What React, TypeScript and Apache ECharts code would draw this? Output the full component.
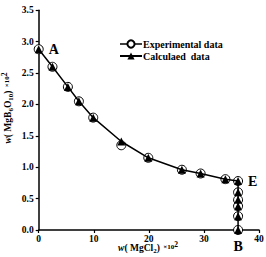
import React, { useEffect, useRef } from "react";
import * as echarts from "echarts";

const expX = [0, 2.5, 5.3, 7.3, 9.9, 15.0, 19.9, 26.0, 29.4, 33.9, 36.2, 36.2, 36.2, 36.2, 36.2, 36.2];
const expY = [2.88, 2.6, 2.28, 2.05, 1.79, 1.35, 1.15, 0.96, 0.9, 0.81, 0.78, 0.6, 0.48, 0.38, 0.22, 0.0];
const calcX = [0, 2.5, 5.3, 7.3, 9.9, 15.0, 19.9, 26.0, 29.4, 33.9, 36.2, 36.2, 36.2, 36.2, 36.2, 36.2];
const calcY = [2.88, 2.6, 2.28, 2.05, 1.79, 1.41, 1.15, 0.96, 0.9, 0.81, 0.78, 0.6, 0.48, 0.38, 0.22, 0.0];
const pointLabels: Record<number, { text: string; pos: string }> = {
  0: { text: "A", pos: "right" },
  10: { text: "E", pos: "right" },
  15: { text: "B", pos: "bottom" },
};
const seriesNames = ["Experimental data", "Calculaed  data"];
const xName = "{i|w}{n|( MgCl}{s|2}{n|)} {x|×10}{p|2}";
const yName = "{i|w}{n|( MgB}{s|6}{n|O}{s|10}{n|)} {x|×10}{p|2}";

const FONT = "'Liberation Serif', 'DejaVu Serif', serif";

const nameRich = {
  i: { fontFamily: FONT, fontStyle: "italic", fontWeight: "bold", fontSize: 9.5, lineHeight: 16, color: "#000" },
  n: { fontFamily: FONT, fontWeight: "bold", fontSize: 9.5, lineHeight: 16, color: "#000" },
  s: { fontFamily: FONT, fontWeight: "bold", fontSize: 7, lineHeight: 10, padding: [6, 0, 0, 0], color: "#000" },
  p: { fontFamily: FONT, fontWeight: "bold", fontSize: 7.5, lineHeight: 9, padding: [0, 0, 7, 0], color: "#000" },
  x: { fontFamily: FONT, fontWeight: "bold", fontSize: 7, lineHeight: 14, padding: [0, 0, 2, 0], color: "#000" },
};

export default function App() {
  const ref = useRef<HTMLDivElement>(null);
  useEffect(() => {
    if (!ref.current) return;
    const chart = echarts.init(ref.current, undefined, { renderer: "svg" });
    const expData = expX.map((x, i) => {
      const lab = pointLabels[i];
      if (!lab) return [x, expY[i]];
      return {
        value: [x, expY[i]],
        label: {
          show: true,
          formatter: lab.text,
          position: lab.pos,
          distance: lab.pos === "bottom" ? 4 : 5,
          fontFamily: FONT,
          fontWeight: "bold",
          fontSize: 14,
          color: "#000",
        },
      };
    });
    const calcData = calcX.map((x, i) => [x, calcY[i]]);
    chart.setOption({
      animation: false,
      grid: { left: 38.7, right: 7, top: 10.3, bottom: 27, containLabel: false, outerBoundsMode: "none" },
      legend: {
        left: 119,
        top: 39,
        padding: 0,
        orient: "vertical",
        itemGap: 2,
        itemWidth: 22,
        itemHeight: 9,
        textStyle: { fontFamily: FONT, fontWeight: "bold", fontSize: 10, color: "#000", padding: [0, 0, 0, -4] },
        data: [
          { name: seriesNames[0], lineStyle: { opacity: 1, color: "#000", width: 1.5 } },
          { name: seriesNames[1] },
        ],
      },
      graphic: [
        {
          type: "text",
          x: 148,
          y: 248,
          style: { text: xName, rich: nameRich, align: "center", verticalAlign: "middle" },
        },
        {
          type: "text",
          x: 8,
          y: 108,
          rotation: Math.PI / 2,
          style: { text: yName, rich: nameRich, align: "center", verticalAlign: "middle" },
        },
      ],
      xAxis: {
        type: "value",
        min: 0,
        max: 40,
        interval: 10,
        splitLine: { show: false },
        axisLine: { show: true, onZero: false, lineStyle: { color: "#000", width: 1.5 } },
        axisTick: { show: true, inside: false, length: 3, lineStyle: { color: "#000", width: 1.2 } },
        axisLabel: { fontFamily: FONT, fontWeight: "bold", fontSize: 9.5, color: "#000", margin: 4 },
      },
      yAxis: {
        type: "value",
        min: 0,
        max: 3.5,
        interval: 0.5,
        splitLine: { show: false },
        axisLine: { show: true, onZero: false, lineStyle: { color: "#000", width: 1.5 } },
        axisTick: { show: true, inside: false, length: 3, lineStyle: { color: "#000", width: 1.2 } },
        axisLabel: {
          fontFamily: FONT,
          fontWeight: "bold",
          fontSize: 9.5,
          color: "#000",
          margin: 5,
          formatter: (v: number) => v.toFixed(1),
        },
      },
      series: [
        {
          name: seriesNames[0],
          type: "line",
          data: expData,
          symbol: "circle",
          symbolSize: 9,
          z: 2,
          lineStyle: { opacity: 0, color: "#000", width: 1.5 },
          itemStyle: { color: "#fff", borderColor: "#000", borderWidth: 1 },
        },
        {
          name: seriesNames[1],
          type: "line",
          data: calcData,
          symbol: "triangle",
          symbolSize: 8,
          z: 3,
          lineStyle: { color: "#000", width: 1.5 },
          itemStyle: { color: "#000" },
        },
      ],
    });
    return () => chart.dispose();
  }, []);
  return <div ref={ref} style={{ width: 266, height: 257, position: "absolute", left: 0, top: 0 }} />;
}
